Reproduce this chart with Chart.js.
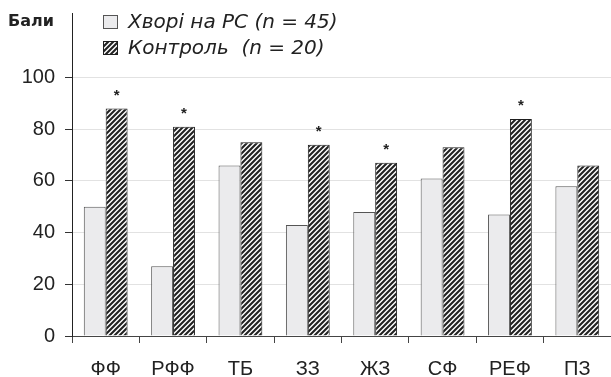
<!DOCTYPE html>
<html>
<head>
<meta charset="utf-8">
<script src="https://cdn.jsdelivr.net/npm/chart.js@4"></script>
<style>
  html, body { margin: 0; padding: 0; background: #fff; }
  #wrap { width: 611px; height: 377px; }
</style>
</head>
<body>
<div id="wrap"><canvas id="chart" width="611" height="377"></canvas></div>
<script>
// data
const categories = ["ФФ", "РФФ", "ТБ", "ЗЗ", "ЖЗ", "СФ", "РЕФ", "ПЗ"];
const patients = [50, 27, 66, 43, 48, 61, 47, 58];
const controls = [88, 81, 75, 74, 67, 73, 84, 66];
const significant = [true, true, false, true, true, false, true, false];
const yTicks = [0, 20, 40, 60, 80, 100];
const seriesLabels = ["Хворі на РС (n = 45)", "Контроль  (n = 20)"];
const yTitle = "Бали";

const FONT = "'Liberation Sans', Arial, sans-serif";
const WIDE = "'DejaVu Sans', sans-serif";

function hatchPattern() {
  const c = document.createElement("canvas");
  c.width = 5;
  c.height = 5;
  const g = c.getContext("2d");
  g.fillStyle = "#fff";
  g.fillRect(0, 0, 5, 5);
  g.strokeStyle = "#222";
  g.lineWidth = 2.1;
  g.beginPath();
  g.moveTo(-1, 6); g.lineTo(6, -1);
  g.moveTo(-1, 1); g.lineTo(1, -1);
  g.moveTo(4, 6); g.lineTo(6, 4);
  g.stroke();
  return g.createPattern(c, "repeat");
}

const hatch = hatchPattern();

// asterisks above the control bars + legend + axis title
const extras = {
  id: "extras",
  afterDatasetsDraw(chart) {
    const ctx = chart.ctx;
    const meta = chart.getDatasetMeta(1);
    ctx.save();
    ctx.fillStyle = "#222";
    ctx.font = "bold 15px " + FONT;
    ctx.textAlign = "center";
    ctx.textBaseline = "alphabetic";
    meta.data.forEach((bar, i) => {
      if (significant[i]) ctx.fillText("*", bar.x, bar.y - 9);
    });
    ctx.restore();
  },
  afterDraw(chart) {
    const ctx = chart.ctx;
    ctx.save();
    ctx.fillStyle = "#222";
    ctx.font = "bold 16px " + WIDE;
    ctx.textBaseline = "middle";
    ctx.textAlign = "left";
    ctx.fillText(yTitle, 8, 22);

    const ds = chart.data.datasets;
    const rows = [22, 48];
    ds.forEach((d, i) => {
      const y = rows[i];
      ctx.fillStyle = d.backgroundColor;
      ctx.fillRect(103, y - 7, 15, 14);
      ctx.strokeStyle = d.borderColor;
      ctx.lineWidth = 1;
      ctx.strokeRect(103.5, y - 6.5, 14, 13);
      ctx.fillStyle = "#222";
      ctx.font = "oblique 20px " + WIDE;
      ctx.fillText(seriesLabels[i], 128, y + 1);
    });
    ctx.restore();
  },
};

new Chart(document.getElementById("chart"), {
  type: "bar",
  data: {
    labels: categories,
    datasets: [
      {
        label: seriesLabels[0],
        data: patients,
        backgroundColor: "#ebebed",
        borderColor: "#555",
        borderWidth: 1,
        categoryPercentage: 0.65,
        barPercentage: 1.0,
      },
      {
        label: seriesLabels[1],
        data: controls,
        backgroundColor: hatch,
        borderColor: "#1e1e1e",
        borderWidth: 1,
        categoryPercentage: 0.65,
        barPercentage: 1.0,
      },
    ],
  },
  options: {
    responsive: false,
    animation: false,
    layout: { padding: { top: 13, right: 0, left: 0, bottom: 0 } },
    plugins: {
      legend: { display: false },
      tooltip: { enabled: false },
    },
    scales: {
      x: {
        grid: {
          drawOnChartArea: false,
          tickLength: 7,
          tickColor: "#444",
        },
        border: { color: "#444", width: 1 },
        ticks: {
          color: "#222",
          font: { family: FONT, size: 20 },
          padding: 14,
        },
        afterFit(scale) {
          scale.height = 41;
          scale.paddingLeft = 0;
          scale.paddingRight = 0;
        },
      },
      y: {
        min: 0,
        max: 125,
        afterBuildTicks(scale) {
          scale.ticks = yTicks.map((v) => ({ value: v }));
        },
        grid: {
          color: "#e2e2e2",
          tickColor: "#333",
          tickLength: 7,
        },
        border: { color: "#222", width: 1 },
        ticks: {
          color: "#222",
          font: { family: FONT, size: 20 },
          padding: 10,
        },
        afterFit(scale) {
          scale.width = 72;
          scale.paddingTop = 0;
          scale.paddingBottom = 0;
        },
      },
    },
  },
  plugins: [extras],
});
</script>
</body>
</html>
